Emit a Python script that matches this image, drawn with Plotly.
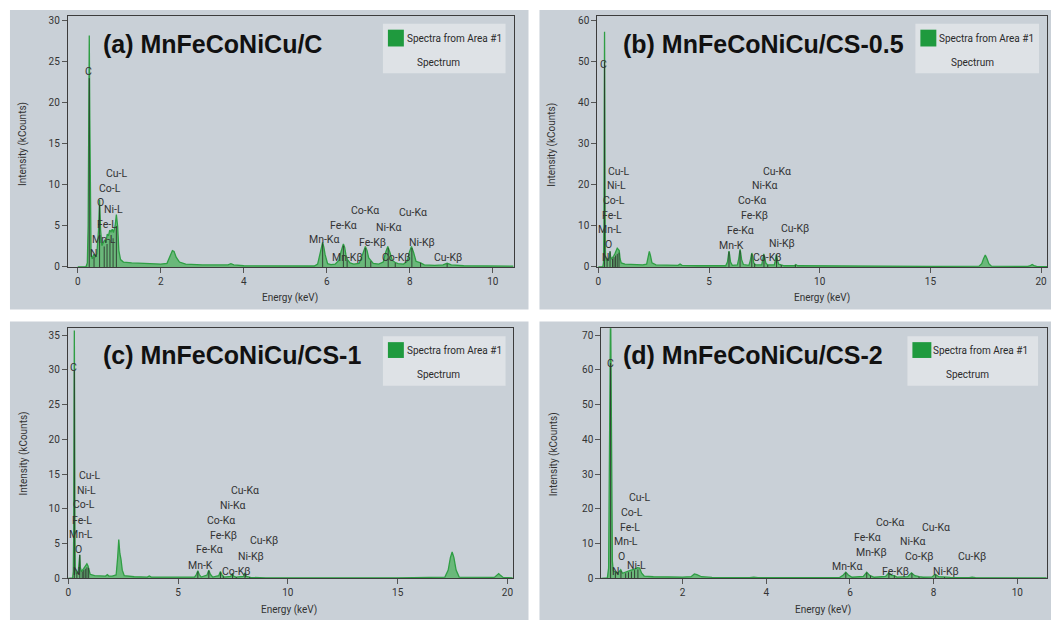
import plotly.graph_objects as go

W, H = 1056, 626


def px(x):
    return x / W


def py(y):
    return 1 - y / H


# ---------------- DATA ----------------
# Panel (a) MnFeCoNiCu/C
E_A = [0.00, 0.20, 0.23, 0.25, 0.265, 0.277, 0.29, 0.305, 0.32, 0.35, 0.39, 0.42, 0.46, 0.50, 0.525, 0.55,
       0.58, 0.62, 0.65, 0.68, 0.71, 0.74, 0.77, 0.80, 0.83, 0.86, 0.90, 0.93, 0.96, 0.99, 1.03, 1.10, 1.3,
       1.6, 1.8, 2.0, 2.15, 2.22, 2.28, 2.32, 2.37, 2.45, 2.6, 3.0, 3.5, 3.62, 3.69, 3.76, 4.0, 5.0, 5.70,
       5.78, 5.84, 5.87, 5.90, 5.93, 5.96, 6.02, 6.10, 6.20, 6.29, 6.34, 6.37, 6.40, 6.43, 6.46, 6.50, 6.56,
       6.65, 6.78, 6.84, 6.89, 6.93, 6.97, 7.01, 7.06, 7.12, 7.25, 7.36, 7.42, 7.47, 7.52, 7.58, 7.65, 7.72,
       7.85, 7.94, 7.99, 8.04, 8.09, 8.15, 8.26, 8.35, 8.6, 8.8, 8.9, 9.0, 9.3, 10.5]
I_A = [0.0, 0.05, 0.5, 5.0, 18.0, 28.2, 18.0, 5.0, 1.5, 1.0, 1.6, 1.2, 1.6, 4.5, 8.2, 4.5,
       2.6, 3.0, 3.3, 3.0, 4.0, 3.8, 4.5, 4.3, 4.6, 4.2, 5.0, 6.4, 5.0, 2.0, 0.9, 0.6, 0.5,
       0.45, 0.4, 0.35, 0.45, 1.2, 2.0, 1.9, 1.2, 0.6, 0.35, 0.25, 0.2, 0.25, 0.4, 0.25, 0.15, 0.1, 0.12,
       0.35, 1.5, 2.4, 3.0, 2.4, 1.5, 0.4, 0.3, 0.35, 0.8, 1.8, 2.5, 2.8, 2.4, 1.5, 0.9, 0.5,
       0.35, 0.45, 1.2, 2.1, 2.5, 2.0, 1.1, 0.8, 0.45, 0.35, 0.6, 1.8, 2.5, 1.8, 0.8, 0.55, 0.4,
       0.35, 0.7, 1.8, 2.5, 1.8, 0.7, 0.5, 0.25, 0.2, 0.25, 0.45, 0.25, 0.15, 0.1]
MK_A_E = [0.277, 0.392, 0.525, 0.637, 0.705, 0.776, 0.851, 0.93, 5.90, 6.40, 6.49, 6.93, 7.06, 7.48, 7.65, 8.05, 8.26, 8.90]
MK_A_H = [23.0, 1.2, 7.5, 2.5, 2.8, 3.3, 3.5, 5.0, 2.9, 2.6, 0.8, 2.3, 0.7, 2.3, 0.5, 2.3, 0.5, 0.4]
LB_A = ["C", "Cu-L", "Co-L", "O", "Ni-L", "Fe-L", "Mn-L", "N", "Mn-Kα", "Fe-Kα", "Co-Kα", "Ni-Kα", "Cu-Kα",
        "Fe-Kβ", "Ni-Kβ", "Mn-Kβ", "Co-Kβ", "Cu-Kβ"]
LB_A_X = [0.27, 0.95, 0.78, 0.54, 0.86, 0.70, 0.62, 0.39, 5.93, 6.41, 6.93, 7.51, 8.07, 7.09, 8.29, 6.49, 7.67, 8.93]
LB_A_Y = [23.8, 11.4, 9.6, 7.8, 7.0, 5.2, 3.4, 1.6, 3.3, 5.1, 6.9, 4.8, 6.6, 3.0, 3.0, 1.2, 1.2, 1.2]

# Panel (b) MnFeCoNiCu/CS-0.5
E_B = [0.0, 0.20, 0.23, 0.25, 0.265, 0.277, 0.29, 0.305, 0.32, 0.36, 0.39, 0.43, 0.50, 0.525, 0.55, 0.60,
       0.65, 0.70, 0.75, 0.80, 0.85, 0.90, 0.94, 0.98, 1.03, 1.2, 1.6, 2.0, 2.18, 2.25, 2.30, 2.35, 2.42,
       2.6, 3.0, 3.6, 3.69, 3.78, 4.5, 5.75, 5.83, 5.87, 5.90, 5.93, 5.97, 6.05, 6.28, 6.34, 6.37, 6.40,
       6.43, 6.47, 6.55, 6.8, 6.86, 6.90, 6.93, 6.97, 7.02, 7.10, 7.38, 7.43, 7.47, 7.51, 7.57, 7.65, 7.95,
       8.00, 8.04, 8.08, 8.14, 8.26, 8.4, 8.85, 8.92, 9.0, 10.0, 12.0, 15.0, 17.2, 17.32, 17.40, 17.48,
       17.56, 17.64, 17.76, 19.4, 19.52, 19.6, 19.68, 19.8, 20.3]
I_B = [0.0, 0.1, 1.0, 10.0, 38.0, 57.3, 38.0, 10.0, 2.5, 1.5, 2.0, 1.5, 2.5, 3.8, 2.5, 2.0,
       2.3, 2.8, 3.3, 4.0, 4.6, 4.3, 4.0, 2.0, 1.0, 0.7, 0.6, 0.5, 0.7, 2.5, 3.8, 2.8, 1.0,
       0.5, 0.4, 0.4, 0.7, 0.4, 0.3, 0.3, 1.2, 2.9, 3.9, 2.9, 1.2, 0.4, 0.5, 2.0, 3.4, 4.3,
       3.4, 1.8, 0.6, 0.4, 1.5, 2.8, 3.4, 2.6, 1.0, 0.5, 0.5, 2.0, 3.2, 2.3, 0.9, 0.5, 0.5,
       1.8, 3.0, 2.0, 0.7, 0.5, 0.3, 0.3, 0.6, 0.3, 0.25, 0.2, 0.15, 0.2, 0.8, 2.0, 2.9,
       2.0, 0.8, 0.2, 0.15, 0.35, 0.6, 0.35, 0.15, 0.1]
MK_B_E = [0.277, 0.392, 0.525, 0.637, 0.705, 0.776, 0.851, 0.93, 5.90, 6.40, 6.93, 7.06, 7.48, 7.65, 8.05, 8.26, 8.90]
MK_B_H = [50.0, 1.5, 3.8, 2.0, 2.4, 2.8, 3.2, 3.5, 3.7, 4.0, 3.2, 0.8, 3.0, 0.5, 2.8, 0.5, 0.5]
LB_B = ["C", "Cu-L", "Ni-L", "Co-L", "Fe-L", "Mn-L", "O", "N", "Cu-Kα", "Ni-Kα", "Co-Kα", "Fe-Kβ", "Fe-Kα",
        "Cu-Kβ", "Mn-K", "Ni-Kβ", "Co-Kβ"]
LB_B_X = [0.21, 0.92, 0.80, 0.69, 0.62, 0.54, 0.46, 0.36, 8.05, 7.52, 6.95, 7.07, 6.44, 8.90, 6.02, 8.30, 7.63]
LB_B_Y = [49.3, 23.3, 19.8, 16.2, 12.5, 9.2, 5.4, 2.2, 23.3, 19.8, 16.2, 12.5, 9.0, 9.4, 5.2, 5.7, 2.2]

# Panel (c) MnFeCoNiCu/CS-1
E_C = [0.0, 0.20, 0.23, 0.25, 0.265, 0.277, 0.29, 0.305, 0.32, 0.36, 0.40, 0.45, 0.50, 0.525, 0.55, 0.60,
       0.70, 0.80, 0.85, 0.90, 0.95, 1.0, 1.2, 1.7, 1.78, 1.85, 2.0, 2.18, 2.25, 2.30, 2.35, 2.40, 2.46,
       2.55, 3.0, 3.6, 3.69, 3.78, 5.75, 5.84, 5.90, 5.96, 6.05, 6.32, 6.40, 6.47, 6.58, 6.85, 6.93, 7.00,
       7.1, 7.40, 7.47, 7.54, 7.65, 7.97, 8.04, 8.11, 8.3, 9.0, 15.0, 17.15, 17.30, 17.40, 17.48, 17.56,
       17.66, 17.80, 19.4, 19.52, 19.6, 19.68, 19.8, 20.25]
I_C = [0.0, 0.1, 1.0, 7.0, 24.0, 35.7, 24.0, 7.0, 1.5, 0.8, 0.9, 0.7, 2.0, 3.4, 1.6, 1.0,
       1.4, 1.8, 2.1, 1.8, 1.2, 0.6, 0.4, 0.35, 0.55, 0.35, 0.35, 0.5, 3.0, 5.6, 3.6, 2.8, 1.2,
       0.4, 0.25, 0.2, 0.35, 0.2, 0.2, 0.6, 1.1, 0.6, 0.2, 0.5, 1.2, 0.6, 0.2, 0.4, 1.0, 0.5,
       0.2, 0.3, 0.7, 0.3, 0.2, 0.3, 0.8, 0.3, 0.15, 0.1, 0.1, 0.2, 1.2, 3.0, 3.8, 3.0,
       1.2, 0.2, 0.15, 0.45, 0.7, 0.45, 0.15, 0.1]
MK_C_E = [0.277, 0.392, 0.525, 0.637, 0.705, 0.776, 0.851, 0.93, 5.90, 6.40, 6.93, 7.06, 7.48, 7.65, 8.05, 8.26]
MK_C_H = [30.0, 0.8, 3.4, 1.0, 1.2, 1.4, 1.6, 1.5, 1.0, 1.1, 0.9, 0.3, 0.7, 0.2, 0.7, 0.2]
LB_C = ["C", "Cu-L", "Ni-L", "Co-L", "Fe-L", "Mn-L", "O", "N", "Cu-Kα", "Ni-Kα", "Co-Kα", "Fe-Kβ", "Fe-Kα",
        "Cu-Kβ", "Mn-K", "Ni-Kβ", "Co-Kβ"]
LB_C_X = [0.23, 0.97, 0.82, 0.73, 0.63, 0.59, 0.48, 0.42, 8.04, 7.51, 6.95, 7.09, 6.43, 8.92, 6.0, 8.31, 7.66]
LB_C_Y = [30.3, 14.8, 12.7, 10.6, 8.4, 6.3, 4.1, 1.0, 12.6, 10.5, 8.3, 6.2, 4.1, 5.4, 1.9, 3.2, 1.0]

# Panel (d) MnFeCoNiCu/CS-2
E_D = [0.0, 0.20, 0.23, 0.25, 0.265, 0.277, 0.29, 0.305, 0.32, 0.34, 0.39, 0.45, 0.52, 0.56, 0.65, 0.75,
       0.85, 0.92, 0.97, 1.02, 1.08, 1.3, 2.0, 2.2, 2.28, 2.34, 2.45, 2.7, 3.6, 3.7, 3.8, 5.75, 5.84, 5.90,
       5.96, 6.05, 6.32, 6.40, 6.47, 6.58, 6.85, 6.93, 7.00, 7.06, 7.12, 7.38, 7.47, 7.55, 7.65, 7.75, 7.96,
       8.04, 8.12, 8.26, 8.4, 8.85, 8.92, 9.0, 10.7]
I_D = [0.0, 0.2, 3.0, 25.0, 60.0, 80.0, 60.0, 25.0, 5.0, 2.2, 2.0, 1.5, 2.5, 1.5, 1.8, 2.3,
       2.7, 3.1, 3.0, 1.5, 0.7, 0.5, 0.4, 0.5, 1.3, 1.1, 0.5, 0.3, 0.25, 0.4, 0.25, 0.25, 1.0, 1.8,
       1.0, 0.35, 0.6, 1.8, 0.9, 0.35, 0.6, 1.6, 0.9, 0.8, 0.4, 0.5, 1.6, 0.8, 0.5, 0.35, 0.45,
       1.2, 0.5, 0.4, 0.3, 0.25, 0.4, 0.25, 0.15]
MK_D_E = [0.277, 0.392, 0.525, 0.637, 0.705, 0.776, 0.851, 0.93, 5.90, 6.40, 6.49, 6.93, 7.06, 7.48, 7.65, 8.05, 8.26]
MK_D_H = [62.0, 1.8, 2.2, 1.5, 1.8, 2.0, 2.4, 2.6, 1.7, 1.7, 0.8, 1.5, 0.8, 1.5, 0.5, 1.1, 0.4]
LB_D = ["C", "Cu-L", "Co-L", "Fe-L", "Mn-L", "O", "Ni-L", "N", "Co-Kα", "Cu-Kα", "Fe-Kα", "Ni-Kα", "Mn-Kβ",
        "Co-Kβ", "Cu-Kβ", "Mn-Kα", "Fe-Kβ", "Ni-Kβ"]
LB_D_X = [0.27, 0.99, 0.80, 0.73, 0.65, 0.53, 0.89, 0.41, 6.95, 8.06, 6.43, 7.51, 6.51, 7.67, 8.91, 5.93, 7.09, 8.30]
LB_D_Y = [61.9, 23.2, 19.0, 14.7, 10.5, 6.2, 3.8, 1.9, 16.1, 14.8, 11.9, 10.7, 7.6, 6.4, 6.4, 3.3, 2.0, 2.0]

TITLES = ["(a) MnFeCoNiCu/C", "(b) MnFeCoNiCu/CS-0.5", "(c) MnFeCoNiCu/CS-1", "(d) MnFeCoNiCu/CS-2"]
LEGEND_NAME = "Spectra from Area #1"
LEGEND_SUB = "Spectrum"
X_TITLE = "Energy (keV)"
Y_TITLE = "Intensity (kCounts)"

# ---------------- LAYOUT GEOMETRY (pixels) ----------------
BG = "#c9d0d7"
LEG_BG = "#dee2e6"
GREEN_LINE = "#2f9e44"
GREEN_FILL = "rgba(60,172,78,0.68)"
TXT = "#333333"

panels = [
    dict(E=E_A, I=I_A, ME=MK_A_E, MH=MK_A_H, L=LB_A, LX=LB_A_X, LY=LB_A_Y,
         plot=(66, 15, 513, 269), bg=(8, 9, 528, 312), xr=[-0.24, 10.5], yr=[0, 30.6],
         xt=[0, 2, 4, 6, 8, 10], yt=[0, 5, 10, 15, 20, 25, 30],
         title=(99, 43), leg=(382, 23, 505, 73), sq=(387, 29, 403, 46), legtxt=(404, 37.7), legsub=(438, 61.7),
         ytl=(21.7, 145), xtl=(289, 300)),
    dict(E=E_B, I=I_B, ME=MK_B_E, MH=MK_B_H, L=LB_B, LX=LB_B_X, LY=LB_B_Y,
         plot=(597, 15, 1048, 269), bg=(539, 9, 1052, 312), xr=[-0.05, 20.27], yr=[0, 61.2],
         xt=[0, 5, 10, 15, 20], yt=[0, 10, 20, 30, 40, 50, 60],
         title=(621, 43), leg=(916, 23, 1040, 73), sq=(921, 29, 937, 46), legtxt=(938, 37.7), legsub=(973, 61.7),
         ytl=(552, 145), xtl=(822, 300)),
    dict(E=E_C, I=I_C, ME=MK_C_E, MH=MK_C_H, L=LB_C, LX=LB_C_X, LY=LB_C_Y,
         plot=(66, 331, 512, 584), bg=(8, 324, 528, 626), xr=[-0.02, 20.23], yr=[0, 36],
         xt=[0, 5, 10, 15, 20], yt=[0, 5, 10, 15, 20, 25, 30, 35],
         title=(99, 358), leg=(382, 339, 505, 389), sq=(387, 345, 403, 361), legtxt=(404, 353.3), legsub=(438, 377.3),
         ytl=(21.7, 458), xtl=(288, 616)),
    dict(E=E_D, I=I_D, ME=MK_D_E, MH=MK_D_H, L=LB_D, LX=LB_D_X, LY=LB_D_Y,
         plot=(601, 331, 1048, 584), bg=(539, 324, 1052, 626), xr=[0.055, 10.71], yr=[0, 72],
         xt=[2, 4, 6, 8, 10], yt=[0, 10, 20, 30, 40, 50, 60, 70],
         title=(621, 358), leg=(908, 339, 1039, 389), sq=(913, 345, 932, 361), legtxt=(932, 353.3), legsub=(968, 377.3),
         ytl=(553, 458), xtl=(823, 616)),
]

fig = go.Figure()
shapes = []
annotations = []
layout_axes = {}

for k, p in enumerate(panels):
    n = "" if k == 0 else str(k + 1)
    xa, ya = "x" + n, "y" + n
    x0, y0, x1, y1 = p["plot"]

    # spectrum
    fig.add_trace(go.Scatter(x=p["E"], y=p["I"], mode="lines", fill="tozeroy",
                             line=dict(color=GREEN_LINE, width=1.3), fillcolor=GREEN_FILL,
                             xaxis=xa, yaxis=ya, showlegend=False, hoverinfo="skip"))
    # element marker lines
    mx, my = [], []
    for e, h in zip(p["ME"], p["MH"]):
        mx += [e, e, None]
        my += [0, h, None]
    fig.add_trace(go.Scatter(x=mx, y=my, mode="lines", line=dict(color="#262626", width=0.8),
                             xaxis=xa, yaxis=ya, showlegend=False, hoverinfo="skip"))

    axis_common = dict(showgrid=False, zeroline=False, showline=True, linecolor="#3c3c3c", linewidth=1,
                       mirror=True, ticks="outside", ticklen=5, tickcolor="#555555",
                       tickfont=dict(family="Roboto, Noto Sans, sans-serif", size=10, color="#333333"))
    layout_axes["xaxis" + n] = dict(axis_common, domain=[px(x0), px(x1)], range=p["xr"], anchor=ya,
                                    tickvals=p["xt"])
    layout_axes["yaxis" + n] = dict(axis_common, domain=[py(y1), py(y0)], range=p["yr"], anchor=xa,
                                    tickvals=p["yt"])

    # panel background
    bx0, by0, bx1, by1 = p["bg"]
    shapes.append(dict(type="rect", xref="paper", yref="paper", x0=px(bx0), x1=px(bx1), y0=py(by1), y1=py(by0),
                       fillcolor=BG, line=dict(width=0), layer="below"))
    # legend box
    lx0, ly0, lx1, ly1 = p["leg"]
    shapes.append(dict(type="rect", xref="paper", yref="paper", x0=px(lx0), x1=px(lx1), y0=py(ly1), y1=py(ly0),
                       fillcolor=LEG_BG, line=dict(width=0), layer="above"))
    sx0, sy0, sx1, sy1 = p["sq"]
    shapes.append(dict(type="rect", xref="paper", yref="paper", x0=px(sx0), x1=px(sx1), y0=py(sy1), y1=py(sy0),
                       fillcolor="#1f9a3e", line=dict(width=0), layer="above"))
    annotations.append(dict(xref="paper", yref="paper", x=px(p["legtxt"][0]), y=py(p["legtxt"][1]),
                            text=LEGEND_NAME, showarrow=False, xanchor="left", yanchor="middle",
                            font=dict(family="Roboto, sans-serif", size=10, color="#2a2a2a")))
    annotations.append(dict(xref="paper", yref="paper", x=px(p["legsub"][0]), y=py(p["legsub"][1]),
                            text=LEGEND_SUB, showarrow=False, xanchor="center", yanchor="middle",
                            font=dict(family="Roboto, sans-serif", size=10, color="#2a2a2a")))
    # title
    annotations.append(dict(xref="paper", yref="paper", x=px(p["title"][0]), y=py(p["title"][1]),
                            text="<b>" + TITLES[k] + "</b>", showarrow=False, xanchor="left", yanchor="middle",
                            font=dict(family="Liberation Sans, Arial, sans-serif", size=25, color="#111111")))
    # axis titles
    annotations.append(dict(xref="paper", yref="paper", x=px(p["ytl"][0]), y=py(p["ytl"][1]),
                            text=Y_TITLE, showarrow=False, textangle=-90, xanchor="center", yanchor="middle",
                            font=dict(family="Roboto, sans-serif", size=10, color="#333333")))
    annotations.append(dict(xref="paper", yref="paper", x=px(p["xtl"][0]), y=py(p["xtl"][1]),
                            text=X_TITLE, showarrow=False, xanchor="center", yanchor="middle",
                            font=dict(family="Roboto, sans-serif", size=10, color="#333333")))
    # peak labels
    for t, lx, ly in zip(p["L"], p["LX"], p["LY"]):
        annotations.append(dict(xref=xa, yref=ya, x=lx, y=ly, text=t, showarrow=False,
                                xanchor="center", yanchor="middle",
                                font=dict(family="Roboto, sans-serif", size=10.5, color=TXT)))

fig.update_layout(width=W, height=H, margin=dict(l=0, r=0, t=0, b=0), paper_bgcolor="white",
                  plot_bgcolor=BG, showlegend=False, shapes=shapes, annotations=annotations, **layout_axes)

fig.write_html("out.html")
